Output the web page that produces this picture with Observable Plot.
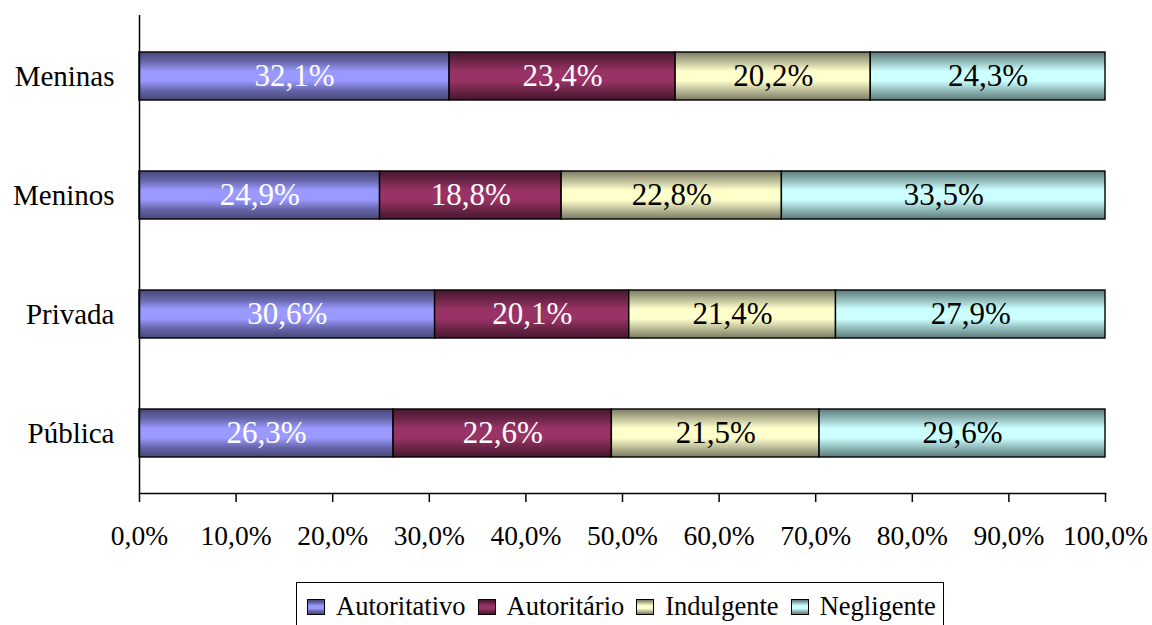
<!DOCTYPE html>
<html>
<head>
<meta charset="utf-8">
<script src="https://cdn.jsdelivr.net/npm/d3@7"></script>
<script src="https://cdn.jsdelivr.net/npm/@observablehq/plot@0.6"></script>
<style>
  html, body { margin: 0; padding: 0; background: #fff; }
  #wrap { position: relative; width: 1152px; height: 625px; overflow: hidden; font-family: "Liberation Serif", Tinos, "Times New Roman", Times, "Nimbus Roman", "DejaVu Serif", serif; }
  #legend { position: absolute; left: 296px; top: 582px; width: 648px; height: 52px; border: 1.5px solid #000; box-sizing: border-box;
    display: flex; align-items: flex-start; padding-top: 8px; padding-left: 10px; font-size: 26.5px; color: #000; white-space: nowrap; }
  .item { display: flex; align-items: center; margin-right: 12px; }
  .sw { width: 16px; height: 14px; border: 1.3px solid #000; margin-right: 11px; }
</style>
</head>
<body>
<div id="wrap"><div id="chart"></div><div id="legend"></div></div>
<script>
const categories = ["Meninas", "Meninos", "Privada", "Pública"];
const seriesNames = ["Autoritativo", "Autoritário", "Indulgente", "Negligente"];
const autoritativo = [32.1, 24.9, 30.6, 26.3];
const autoritario = [23.4, 18.8, 20.1, 22.6];
const indulgente = [20.2, 22.8, 21.4, 21.5];
const negligente = [24.3, 33.5, 27.9, 29.6];
const xTicks = [0, 10, 20, 30, 40, 50, 60, 70, 80, 90, 100];

const FONT = "'Liberation Serif', Tinos, 'Times New Roman', Times, 'Nimbus Roman', 'DejaVu Serif', serif";
const seriesValues = [autoritativo, autoritario, indulgente, negligente];
const gradients = [
  {edge: "#474778", mid: "#6666aa", center: "#9999ff"},
  {edge: "#47162f", mid: "#6c2547", center: "#993366"},
  {edge: "#7a7a63", mid: "#bcbc98", center: "#ffffcc"},
  {edge: "#5c7a7a", mid: "#92baba", center: "#ccffff"}
];
const textColors = ["white", "white", "black", "black"];

const data = [];
categories.forEach((c, i) => {
  seriesNames.forEach((s, j) => {
    data.push({cat: c, series: s, value: seriesValues[j][i], sIdx: j});
  });
});

const fmt = v => v.toFixed(1).replace(".", ",") + "%";

function defsMark() {
  const defs = d3.create("svg:defs");
  gradients.forEach((g, i) => {
    const lg = defs.append("linearGradient").attr("id", "grad" + i)
      .attr("x1", 0).attr("y1", 0).attr("x2", 0).attr("y2", 1);
    [[0, g.edge], [0.2, g.mid], [0.4, g.center], [0.6, g.center], [0.8, g.mid], [1, g.edge]]
      .forEach(([o, c]) => lg.append("stop").attr("offset", o).attr("stop-color", c));
  });
  return defs.node();
}

const plot = Plot.plot({
  width: 1152,
  height: 580,
  marginLeft: 139,
  marginRight: 47,
  marginTop: 15,
  marginBottom: 87,
  style: {fontFamily: FONT, background: "white", color: "black"},
  x: {domain: [0, 100], ticks: xTicks, tickFormat: fmt, tickSize: 9, tickPadding: 23, label: null},
  y: {domain: categories, paddingInner: 0.6, paddingOuter: 0.3, tickSize: 0, tickPadding: 25, label: null},
  color: {domain: seriesNames, range: gradients.map((g, i) => `url(#grad${i})`)},
  marks: [
    defsMark,
    Plot.barX(data, Plot.stackX({x: "value", y: "cat", fill: "series", stroke: "black", strokeWidth: 1.4})),
    Plot.text(data, Plot.stackX({x: "value", y: "cat", z: "series",
      text: d => textColors[d.sIdx] === "white" ? fmt(d.value) : "", fill: "white", fontSize: 31})),
    Plot.text(data, Plot.stackX({x: "value", y: "cat", z: "series",
      text: d => textColors[d.sIdx] === "black" ? fmt(d.value) : "", fill: "black", fontSize: 31})),
    Plot.ruleX([0], {stroke: "black", strokeWidth: 1.5}),
    Plot.frame({anchor: "bottom", stroke: "black", strokeWidth: 1.5})
  ]
});
d3.select(plot).selectAll("text").style("font-family", FONT);
d3.select(plot).selectAll("[aria-label='x-axis tick label'] text, [aria-label='y-axis tick label'] text").attr("fill", "black");
d3.select(plot).selectAll("[aria-label='x-axis tick label']").style("font-size", "27.5px");
d3.select(plot).selectAll("[aria-label='y-axis tick label']").style("font-size", "29px");
d3.select(plot).selectAll("[aria-label='x-axis tick'] path, [aria-label='x-axis tick']").attr("stroke", "black").attr("stroke-width", 1.5);
document.getElementById("chart").appendChild(plot);

const legend = document.getElementById("legend");
seriesNames.forEach((s, i) => {
  const g = gradients[i];
  const item = document.createElement("div");
  item.className = "item";
  const sw = document.createElement("div");
  sw.className = "sw";
  sw.style.background = `linear-gradient(to bottom, ${g.edge} 0%, ${g.mid} 20%, ${g.center} 40%, ${g.center} 60%, ${g.mid} 80%, ${g.edge} 100%)`;
  const label = document.createElement("span");
  label.textContent = s;
  item.appendChild(sw);
  item.appendChild(label);
  legend.appendChild(item);
});
</script>
</body>
</html>
